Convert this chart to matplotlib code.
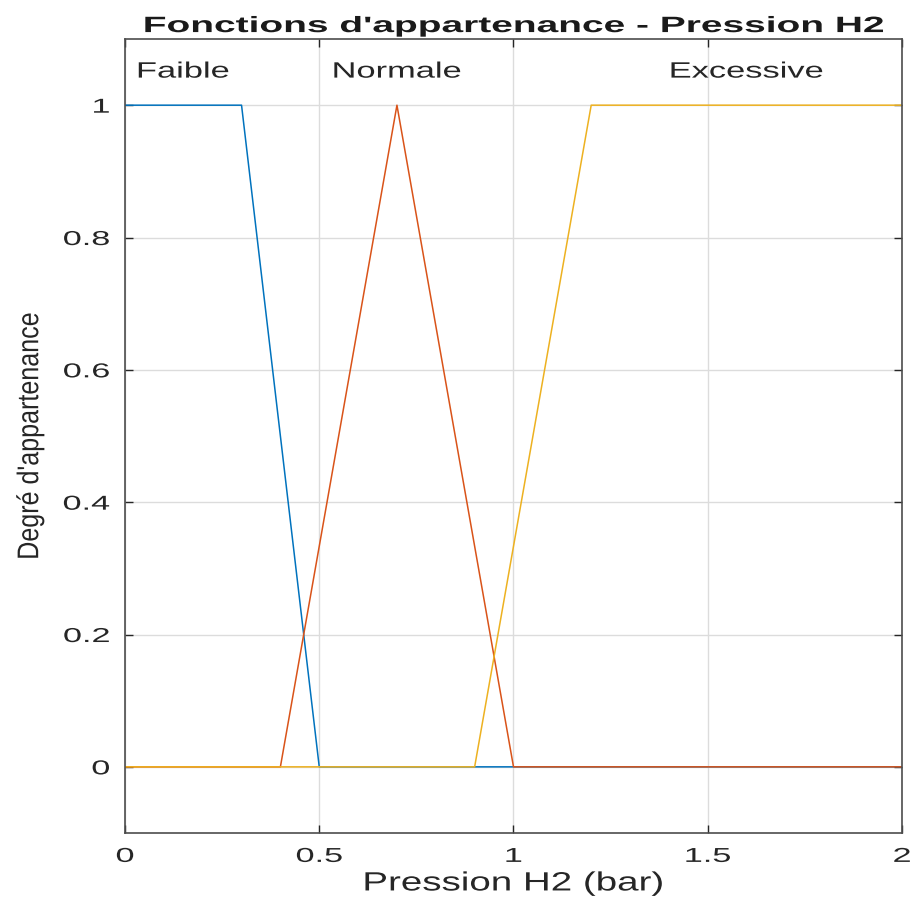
import numpy as np
import matplotlib.pyplot as plt
from matplotlib.patheffects import AbstractPathEffect
from matplotlib.transforms import Affine2D

# membership functions (breakpoints)
faible_x = [0, 0.3, 0.5, 2]
faible_y = [1, 1, 0, 0]
normale_x = [0, 0.4, 0.7, 1.0, 2]
normale_y = [0, 0, 1, 0, 0]
excessive_x = [0, 0.9, 1.2, 2]
excessive_y = [0, 0, 1, 1]

labels = ["Faible", "Normale", "Excessive"]
label_x = [0.15, 0.7, 1.6]
label_y = 1.05

xticks = [0, 0.5, 1, 1.5, 2]
xticklabels = ['0', '0.5', '1', '1.5', '2']
yticks = [0, 0.2, 0.4, 0.6, 0.8, 1]
yticklabels = ['0', '0.2', '0.4', '0.6', '0.8', '1']

colors = ["#0072BD", "#D95319", "#EDB120"]


class Stretch(AbstractPathEffect):
    # rescale the glyphs on screen (text stays a normal Text artist)
    def __init__(self, sx=1.0, sy=1.0, anchor='center'):
        super().__init__()
        self.sx = sx
        self.sy = sy
        self.anchor = anchor

    def draw_path(self, renderer, gc, tpath, affine, rgbFace=None):
        ext = tpath.get_extents(affine)
        if self.anchor == 'right':
            x0 = ext.x1
        elif self.anchor == 'left':
            x0 = ext.x0
        else:
            x0 = (ext.x0 + ext.x1) / 2
        y0 = (ext.y0 + ext.y1) / 2
        t = affine + Affine2D().translate(-x0, -y0).scale(self.sx, self.sy).translate(x0, y0)
        renderer.draw_path(gc, tpath, t, rgbFace)


plt.rcParams['font.family'] = ['Liberation Sans', 'DejaVu Sans']

fig = plt.figure(figsize=(9.15, 8.99), dpi=100)
ax = fig.add_axes([0.1366, 0.0734, 0.8492, 0.8832])

ax.plot(faible_x, faible_y, color=colors[0], lw=1.1)
ax.plot(normale_x, normale_y, color=colors[1], lw=1.1)
ax.plot(excessive_x, excessive_y, color=colors[2], lw=1.1)

for lab, lx in zip(labels, label_x):
    ax.text(lx, label_y, lab, ha='center', va='center', fontsize=16, color='#262626',
            path_effects=[Stretch(sx=1.55)])

ax.set_xlim(0, 2)
ax.set_ylim(-0.1, 1.1)
ax.set_xticks(xticks)
ax.set_xticklabels(xticklabels)
ax.set_yticks(yticks)
ax.set_yticklabels(yticklabels)
ax.grid(True, color='#dcdcdc', lw=1)
ax.set_axisbelow(True)
ax.tick_params(direction='in', top=True, right=True, labelsize=14.5, colors='#262626',
               length=6, width=1)
ax.tick_params(axis='x', pad=10)
ax.tick_params(axis='y', pad=11)
for t in ax.get_xticklabels():
    t.set_path_effects([Stretch(sx=1.7)])
for t in ax.get_yticklabels():
    t.set_path_effects([Stretch(sx=1.7, anchor='right')])
for s in ax.spines.values():
    s.set_color('#4d4d4d')
    s.set_linewidth(1.2)

ax.set_title("Fonctions d'appartenance - Pression H2", fontsize=16, fontweight='bold',
             color='#1a1a1a', pad=5, path_effects=[Stretch(sx=1.75)])
ax.set_xlabel("Pression H2 (bar)", fontsize=19, color='#262626', labelpad=4,
              path_effects=[Stretch(sx=1.46)])
ax.set_ylabel("Degré d'appartenance", fontsize=21.5, color='#262626',
              path_effects=[Stretch(sy=0.84)])
ax.yaxis.set_label_coords(-0.104, 0.5)

fig.savefig('out.png', dpi=100)
